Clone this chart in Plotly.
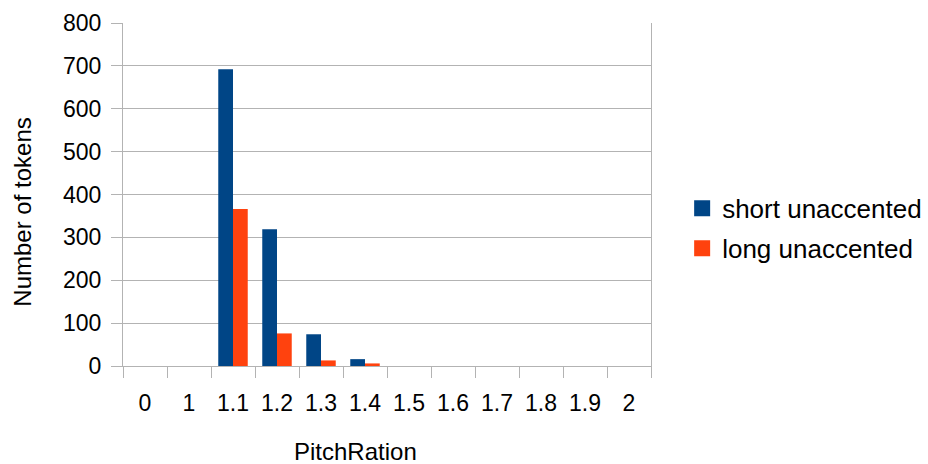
import plotly.graph_objects as go

categories = ["0", "1", "1.1", "1.2", "1.3", "1.4", "1.5", "1.6", "1.7", "1.8", "1.9", "2"]
short_unaccented = [0, 0, 692, 319, 74, 16, 0, 0, 0, 0, 0, 0]
long_unaccented = [0, 0, 366, 76, 13, 6, 0, 0, 0, 0, 0, 0]
y_ticks = [0, 100, 200, 300, 400, 500, 600, 700, 800]

BLUE = "#004586"
ORANGE = "#ff420e"
GRID = "#b3b3b3"
FONT = "Liberation Sans, Arial, sans-serif"

fig = go.Figure()
fig.add_trace(go.Bar(x=categories, y=short_unaccented, name="short unaccented",
                     marker=dict(color=BLUE, line=dict(width=0)), showlegend=False))
fig.add_trace(go.Bar(x=categories, y=long_unaccented, name="long unaccented",
                     marker=dict(color=ORANGE, line=dict(width=0)), showlegend=False))
# legend proxies (larger square swatches)
fig.add_trace(go.Scatter(x=[None], y=[None], mode="markers", name="short unaccented",
                         legendgroup="a",
                         marker=dict(symbol="square", size=16, color=BLUE)))
fig.add_trace(go.Scatter(x=[None], y=[None], mode="markers", name="long unaccented",
                         legendgroup="b",
                         marker=dict(symbol="square", size=16, color=ORANGE)))

fig.update_layout(
    width=928, height=464,
    margin=dict(l=123, r=277, t=23, b=98, autoexpand=False),
    paper_bgcolor="white", plot_bgcolor="white",
    barmode="group", bargap=0.33, bargroupgap=0,
    font=dict(family=FONT, size=23, color="#000000"),
    legend=dict(x=1.059, xanchor="left", y=0.401, yanchor="middle",
                font=dict(size=26), itemwidth=30, tracegroupgap=3,
                bgcolor="rgba(0,0,0,0)"),
    xaxis=dict(
        type="category", categoryorder="array", categoryarray=categories,
        tickson="boundaries", ticks="outside", ticklen=11, tickcolor=GRID,
        showline=True, linecolor=GRID, linewidth=1, showgrid=False,
        tickfont=dict(size=23), ticklabelstandoff=16, automargin=False,
    ),
    yaxis=dict(
        range=[0, 800], tickvals=y_ticks, ticks="outside", ticklen=11, tickcolor=GRID,
        showline=True, linecolor=GRID, linewidth=1, mirror=True,
        showgrid=True, gridcolor=GRID, gridwidth=1, zeroline=False,
        tickfont=dict(size=23), ticklabelstandoff=5, automargin=False,
    ),
    annotations=[
        dict(text="Number of tokens", textangle=-90, xref="paper", yref="paper",
             x=-0.1906, y=0.448, xanchor="center", yanchor="middle",
             showarrow=False, font=dict(size=24)),
        dict(text="PitchRation", xref="paper", yref="paper",
             x=0.44, y=-0.248, xanchor="center", yanchor="middle",
             showarrow=False, font=dict(size=24)),
    ],
)

fig.write_html("out.html", config={"displayModeBar": False},
               post_script="document.body.style.margin='0';")
